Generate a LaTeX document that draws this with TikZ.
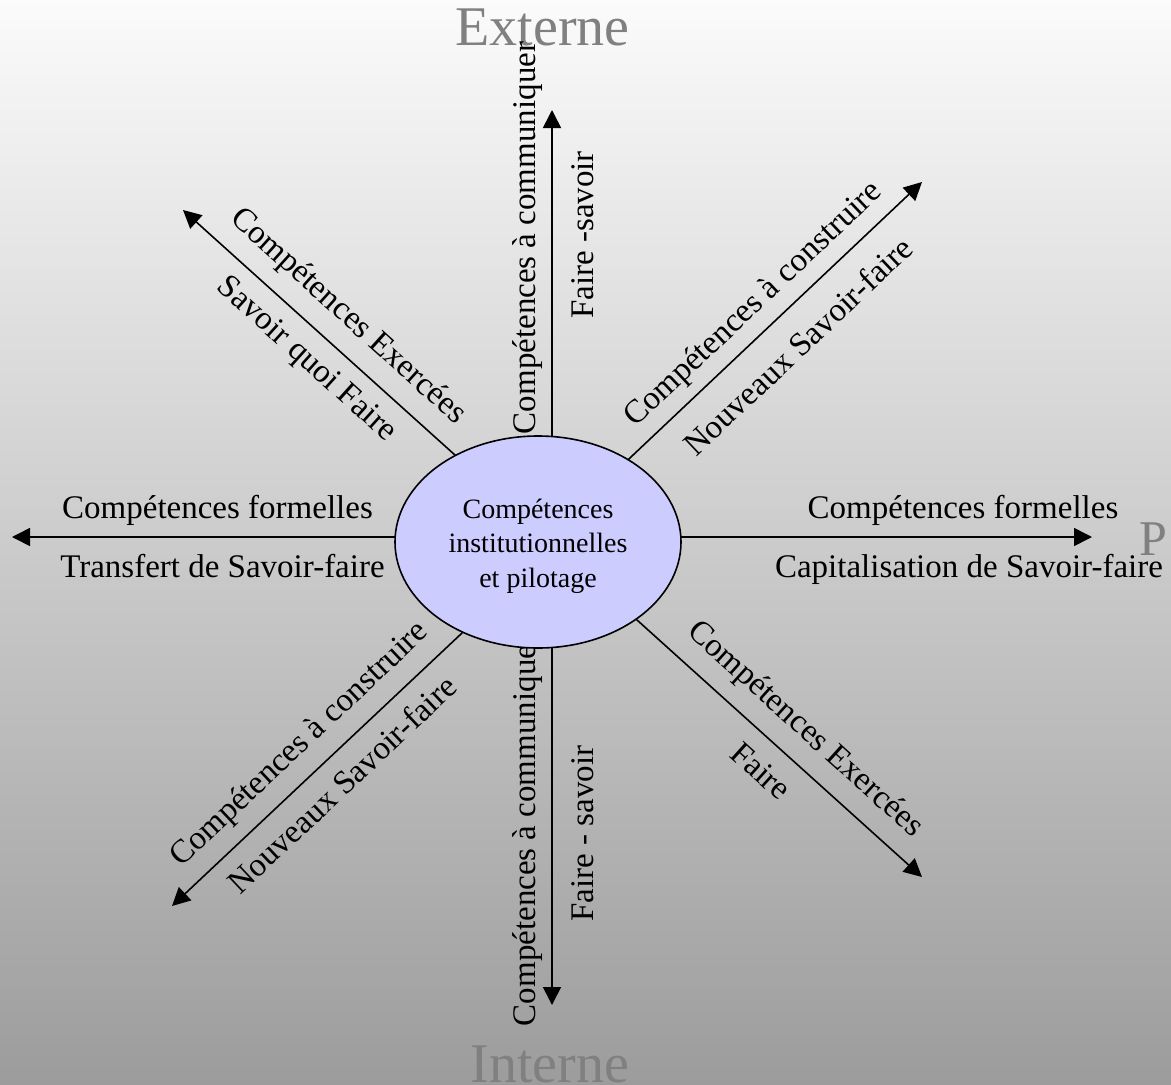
\documentclass[tikz,border=0pt]{standalone}
\usepackage{fontspec}
\setmainfont{Liberation Serif}
\usetikzlibrary{arrows.meta,shapes.geometric}
\definecolor{hubfill}{HTML}{CCCCFF}
\definecolor{bgtop}{HTML}{FBFBFB}
\definecolor{bgmid}{HTML}{D5D5D5}
\definecolor{bgbot}{HTML}{9C9C9C}
\definecolor{axisgray}{HTML}{808080}
\begin{document}
\begin{tikzpicture}[x=1pt,y=-1pt,
 lab/.style={font=\fontsize{33}{40}\selectfont, inner sep=0pt, text=black},
 axislab/.style={font=\fontsize{56}{60}\selectfont, inner sep=0pt, text=axisgray},
 arr/.style={line width=1.6pt, -{Triangle[length=18pt,width=18pt]}},
 hub/.style={ellipse, draw=black, line width=1.6pt, fill=hubfill, minimum width=286pt, minimum height=212pt, inner sep=0pt},
 hubtext/.style={font=\fontsize{28}{34.5}\selectfont, align=center, inner sep=0pt}]
\useasboundingbox (0,0) rectangle (1171,1085);
\shade[top color=bgtop, middle color=bgmid, bottom color=bgbot] (0,0) rectangle (1171,1085);

% axis titles
\node[axislab, anchor=base] (ext) at (542.5,45) {Externe};
\node[axislab, anchor=base] (int) at (550,1082) {Interne};
\node[axislab, font=\fontsize{50}{54}\selectfont, anchor=base west] (pil) at (1139,555) {P};

% arrow coordinates
\coordinate (sN) at (552,500);  \coordinate (tN) at (552,110);
\coordinate (sS) at (552,580);  \coordinate (tS) at (552,1005);
\coordinate (sW) at (500,537);  \coordinate (tW) at (12,537);
\coordinate (sE) at (580,537);  \coordinate (tE) at (1092,537);
\coordinate (sNW) at (484.7,481.8); \coordinate (tNW) at (183,210);
\coordinate (sNE) at (604,482.5);   \coordinate (tNE) at (922,182);
\coordinate (sSW) at (489,607.6);   \coordinate (tSW) at (172,906);
\coordinate (sSE) at (607.3,593.2); \coordinate (tSE) at (922,877);

\draw[arr] (sN) -- (tN);
\draw[arr] (sS) -- (tS);
\draw[arr] (sW) -- (tW);
\draw[arr] (sE) -- (tE);
\draw[arr] (sNW) -- (tNW);
\draw[arr] (sNE) -- (tNE);
\draw[arr] (sSW) -- (tSW);
\draw[arr] (sSE) -- (tSE);

% labels
\node[lab, anchor=base, rotate=90] (n1) at (535,238) {Compétences à communiquer};
\node[lab, anchor=base, rotate=90] (n2) at (593,235) {Faire -savoir};
\node[lab, anchor=base, rotate=90] (s1) at (535,830) {Compétences à communiquer};
\node[lab, anchor=base, rotate=90] (s2) at (593,833.5) {Faire - savoir};
\node[lab, anchor=base] (w1) at (217.5,518) {Compétences formelles};
\node[lab, anchor=base] (w2) at (222.5,577) {Transfert de Savoir-faire};
\node[lab, anchor=base] (e1) at (963,518) {Compétences formelles};
\node[lab, anchor=base] (e2) at (969,577) {Capitalisation de Savoir-faire};
\node[lab, rotate=-42] (nw1) at (348,317) {Compétences Exercées};
\node[lab, rotate=-42] (nw2) at (306,360) {Savoir quoi Faire};
\node[lab, rotate=43.4] (ne1) at (754,305) {Compétences à construire};
\node[lab, rotate=43.4] (ne2) at (798,346) {Nouveaux Savoir-faire};
\node[lab, rotate=43.3] (sw1) at (300,745) {Compétences à construire};
\node[lab, rotate=43.3] (sw2) at (342,784) {Nouveaux Savoir-faire};
\node[lab, rotate=-42] (se1) at (805,730) {Compétences Exercées};
\node[lab, rotate=-42] (se2) at (761,771) {Faire};

% hub
\node[hub] (E) at (538,542) {};
\node[hubtext] (Et) at (538,546) {Compétences\\institutionnelles\\et pilotage};
\end{tikzpicture}
\end{document}
